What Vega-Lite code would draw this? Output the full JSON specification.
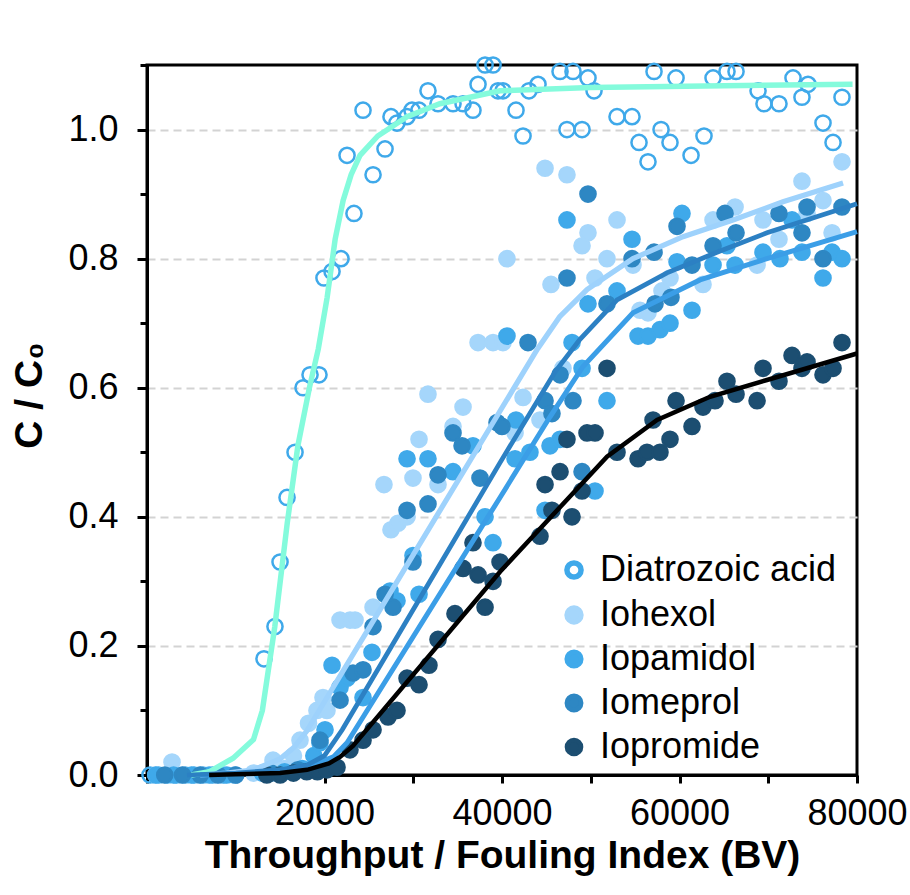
{
  "$schema": "https://vega.github.io/schema/vega-lite/v6.json",
  "width": 710,
  "height": 710,
  "autosize": {"type": "none"},
  "padding": {"left": 147, "top": 65, "right": 53, "bottom": 120},
  "background": "white",
  "config": {
    "font": "Liberation Sans",
    "view": {"stroke": "black", "strokeWidth": 3},
    "axis": {
      "domainColor": "black", "domainWidth": 3,
      "tickColor": "black", "tickWidth": 3,
      "labelColor": "black", "labelFontSize": 36, "labelFont": "Liberation Sans",
      "titleColor": "black", "titleFontSize": 39, "titleFontWeight": "bold", "titleFont": "Liberation Sans",
      "labelOverlap": false, "labelFlush": false, "labelBound": false
    }
  },
  "datasets": {
    "pts": [
      {"s":"Diatrozoic acid","x":340,"y":0},{"s":"Diatrozoic acid","x":1300,"y":0},{"s":"Diatrozoic acid","x":2300,"y":0},{"s":"Diatrozoic acid","x":3300,"y":0},{"s":"Diatrozoic acid","x":4300,"y":0},{"s":"Diatrozoic acid","x":5300,"y":0},{"s":"Diatrozoic acid","x":6300,"y":0},{"s":"Diatrozoic acid","x":7400,"y":0},{"s":"Diatrozoic acid","x":8600,"y":0},{"s":"Diatrozoic acid","x":9900,"y":0},
      {"s":"Diatrozoic acid","x":13180,"y":0.18},{"s":"Diatrozoic acid","x":14420,"y":0.23},{"s":"Diatrozoic acid","x":14990,"y":0.33},{"s":"Diatrozoic acid","x":15780,"y":0.43},{"s":"Diatrozoic acid","x":16680,"y":0.5},{"s":"Diatrozoic acid","x":17580,"y":0.6},{"s":"Diatrozoic acid","x":18370,"y":0.62},{"s":"Diatrozoic acid","x":19380,"y":0.62},{"s":"Diatrozoic acid","x":19940,"y":0.77},{"s":"Diatrozoic acid","x":20850,"y":0.78},{"s":"Diatrozoic acid","x":21860,"y":0.8},{"s":"Diatrozoic acid","x":22540,"y":0.96},{"s":"Diatrozoic acid","x":23320,"y":0.87},{"s":"Diatrozoic acid","x":24340,"y":1.03},{"s":"Diatrozoic acid","x":25470,"y":0.93},{"s":"Diatrozoic acid","x":26820,"y":0.97},{"s":"Diatrozoic acid","x":27490,"y":1.02},{"s":"Diatrozoic acid","x":28170,"y":1.01},{"s":"Diatrozoic acid","x":29300,"y":1.02},{"s":"Diatrozoic acid","x":29860,"y":1.03},{"s":"Diatrozoic acid","x":30650,"y":1.03},{"s":"Diatrozoic acid","x":31660,"y":1.06},{"s":"Diatrozoic acid","x":32790,"y":1.04},{"s":"Diatrozoic acid","x":34480,"y":1.04},{"s":"Diatrozoic acid","x":35610,"y":1.04},{"s":"Diatrozoic acid","x":36730,"y":1.03},{"s":"Diatrozoic acid","x":37300,"y":1.07},{"s":"Diatrozoic acid","x":38090,"y":1.1},{"s":"Diatrozoic acid","x":38990,"y":1.1},{"s":"Diatrozoic acid","x":39550,"y":1.06},{"s":"Diatrozoic acid","x":40110,"y":1.06},{"s":"Diatrozoic acid","x":41580,"y":1.03},{"s":"Diatrozoic acid","x":42370,"y":0.99},{"s":"Diatrozoic acid","x":43040,"y":1.06},{"s":"Diatrozoic acid","x":44060,"y":1.07},{"s":"Diatrozoic acid","x":46540,"y":1.09},{"s":"Diatrozoic acid","x":47320,"y":1.0},{"s":"Diatrozoic acid","x":48000,"y":1.09},{"s":"Diatrozoic acid","x":49020,"y":1.0},{"s":"Diatrozoic acid","x":49690,"y":1.08},{"s":"Diatrozoic acid","x":50370,"y":1.06},{"s":"Diatrozoic acid","x":52960,"y":1.02},{"s":"Diatrozoic acid","x":54650,"y":1.02},{"s":"Diatrozoic acid","x":55440,"y":0.98},{"s":"Diatrozoic acid","x":56450,"y":0.95},{"s":"Diatrozoic acid","x":57130,"y":1.09},{"s":"Diatrozoic acid","x":57920,"y":1.0},{"s":"Diatrozoic acid","x":58930,"y":0.98},{"s":"Diatrozoic acid","x":59610,"y":1.08},{"s":"Diatrozoic acid","x":61300,"y":0.96},{"s":"Diatrozoic acid","x":62760,"y":0.99},{"s":"Diatrozoic acid","x":63780,"y":1.08},{"s":"Diatrozoic acid","x":65350,"y":1.09},{"s":"Diatrozoic acid","x":66370,"y":1.09},{"s":"Diatrozoic acid","x":68850,"y":1.06},{"s":"Diatrozoic acid","x":69520,"y":1.04},{"s":"Diatrozoic acid","x":71210,"y":1.04},{"s":"Diatrozoic acid","x":72790,"y":1.08},{"s":"Diatrozoic acid","x":73800,"y":1.05},{"s":"Diatrozoic acid","x":74480,"y":1.07},{"s":"Diatrozoic acid","x":76170,"y":1.01},{"s":"Diatrozoic acid","x":77300,"y":0.98},{"s":"Diatrozoic acid","x":78310,"y":1.05},

      {"s":"Iohexol","x":1000,"y":0},{"s":"Iohexol","x":2820,"y":0.02},{"s":"Iohexol","x":4000,"y":0},{"s":"Iohexol","x":6000,"y":0},{"s":"Iohexol","x":8000,"y":0},{"s":"Iohexol","x":10000,"y":0},{"s":"Iohexol","x":12000,"y":0.003},{"s":"Iohexol","x":14200,"y":0.023},{"s":"Iohexol","x":15500,"y":0.01},{"s":"Iohexol","x":16500,"y":0.03},{"s":"Iohexol","x":17240,"y":0.054},{"s":"Iohexol","x":18200,"y":0.08},{"s":"Iohexol","x":19150,"y":0.1},{"s":"Iohexol","x":19830,"y":0.12},{"s":"Iohexol","x":20280,"y":0.1},{"s":"Iohexol","x":21750,"y":0.24},{"s":"Iohexol","x":22880,"y":0.24},{"s":"Iohexol","x":23440,"y":0.24},{"s":"Iohexol","x":25470,"y":0.26},{"s":"Iohexol","x":26700,"y":0.45},{"s":"Iohexol","x":27490,"y":0.38},{"s":"Iohexol","x":28280,"y":0.39},{"s":"Iohexol","x":29300,"y":0.4},{"s":"Iohexol","x":29970,"y":0.46},{"s":"Iohexol","x":30650,"y":0.52},{"s":"Iohexol","x":31660,"y":0.59},{"s":"Iohexol","x":32790,"y":0.45},{"s":"Iohexol","x":34480,"y":0.54},{"s":"Iohexol","x":35610,"y":0.57},{"s":"Iohexol","x":37300,"y":0.67},{"s":"Iohexol","x":38990,"y":0.67},{"s":"Iohexol","x":40110,"y":0.67},{"s":"Iohexol","x":40560,"y":0.8},{"s":"Iohexol","x":41470,"y":0.53},{"s":"Iohexol","x":42370,"y":0.585},{"s":"Iohexol","x":44280,"y":0.55},{"s":"Iohexol","x":44850,"y":0.94},{"s":"Iohexol","x":45520,"y":0.76},{"s":"Iohexol","x":46870,"y":0.63},{"s":"Iohexol","x":47320,"y":0.93},{"s":"Iohexol","x":49020,"y":0.82},{"s":"Iohexol","x":49690,"y":0.84},{"s":"Iohexol","x":50480,"y":0.77},{"s":"Iohexol","x":51830,"y":0.8},{"s":"Iohexol","x":52960,"y":0.86},{"s":"Iohexol","x":54760,"y":0.79},{"s":"Iohexol","x":55550,"y":0.72},{"s":"Iohexol","x":56450,"y":0.716},{"s":"Iohexol","x":58030,"y":0.75},{"s":"Iohexol","x":58930,"y":0.77},{"s":"Iohexol","x":62650,"y":0.76},{"s":"Iohexol","x":63780,"y":0.86},{"s":"Iohexol","x":66260,"y":0.88},{"s":"Iohexol","x":68740,"y":0.79},{"s":"Iohexol","x":69410,"y":0.86},{"s":"Iohexol","x":71210,"y":0.83},{"s":"Iohexol","x":73800,"y":0.92},{"s":"Iohexol","x":74370,"y":0.87},{"s":"Iohexol","x":76170,"y":0.89},{"s":"Iohexol","x":77190,"y":0.84},{"s":"Iohexol","x":78310,"y":0.95},

      {"s":"Iopamidol","x":1000,"y":0},{"s":"Iopamidol","x":3000,"y":0},{"s":"Iopamidol","x":5000,"y":0},{"s":"Iopamidol","x":7000,"y":0},{"s":"Iopamidol","x":9000,"y":0},{"s":"Iopamidol","x":13000,"y":0.003},{"s":"Iopamidol","x":15500,"y":0.005},{"s":"Iopamidol","x":17500,"y":0.01},{"s":"Iopamidol","x":18800,"y":0.03},{"s":"Iopamidol","x":19490,"y":0.05},{"s":"Iopamidol","x":20060,"y":0.07},{"s":"Iopamidol","x":20850,"y":0.17},{"s":"Iopamidol","x":21750,"y":0.136},{"s":"Iopamidol","x":22540,"y":0.15},{"s":"Iopamidol","x":24340,"y":0.12},{"s":"Iopamidol","x":25350,"y":0.19},{"s":"Iopamidol","x":27380,"y":0.285},{"s":"Iopamidol","x":28170,"y":0.27},{"s":"Iopamidol","x":29300,"y":0.49},{"s":"Iopamidol","x":29970,"y":0.34},{"s":"Iopamidol","x":30650,"y":0.28},{"s":"Iopamidol","x":31660,"y":0.49},{"s":"Iopamidol","x":34480,"y":0.47},{"s":"Iopamidol","x":36730,"y":0.51},{"s":"Iopamidol","x":38090,"y":0.4},{"s":"Iopamidol","x":38990,"y":0.36},{"s":"Iopamidol","x":40560,"y":0.68},{"s":"Iopamidol","x":41470,"y":0.49},{"s":"Iopamidol","x":41580,"y":0.55},{"s":"Iopamidol","x":43150,"y":0.5},{"s":"Iopamidol","x":44850,"y":0.41},{"s":"Iopamidol","x":45410,"y":0.51},{"s":"Iopamidol","x":46540,"y":0.52},{"s":"Iopamidol","x":47320,"y":0.86},{"s":"Iopamidol","x":47890,"y":0.67},{"s":"Iopamidol","x":49020,"y":0.63},{"s":"Iopamidol","x":49690,"y":0.73},{"s":"Iopamidol","x":50480,"y":0.44},{"s":"Iopamidol","x":51830,"y":0.58},{"s":"Iopamidol","x":52960,"y":0.75},{"s":"Iopamidol","x":54650,"y":0.83},{"s":"Iopamidol","x":55330,"y":0.68},{"s":"Iopamidol","x":56450,"y":0.68},{"s":"Iopamidol","x":57800,"y":0.69},{"s":"Iopamidol","x":58930,"y":0.7},{"s":"Iopamidol","x":59720,"y":0.795},{"s":"Iopamidol","x":60280,"y":0.87},{"s":"Iopamidol","x":61410,"y":0.72},{"s":"Iopamidol","x":63780,"y":0.79},{"s":"Iopamidol","x":65350,"y":0.82},{"s":"Iopamidol","x":66260,"y":0.79},{"s":"Iopamidol","x":69410,"y":0.81},{"s":"Iopamidol","x":71320,"y":0.8},{"s":"Iopamidol","x":72680,"y":0.86},{"s":"Iopamidol","x":73800,"y":0.81},{"s":"Iopamidol","x":76170,"y":0.77},{"s":"Iopamidol","x":77190,"y":0.81},{"s":"Iopamidol","x":78310,"y":0.8},

      {"s":"Iomeprol","x":2000,"y":0},{"s":"Iomeprol","x":4000,"y":0},{"s":"Iomeprol","x":6000,"y":0},{"s":"Iomeprol","x":8000,"y":0},{"s":"Iomeprol","x":10000,"y":0},{"s":"Iomeprol","x":14000,"y":0.003},{"s":"Iomeprol","x":17000,"y":0.008},{"s":"Iomeprol","x":19490,"y":0.054},{"s":"Iomeprol","x":21750,"y":0.116},{"s":"Iomeprol","x":23210,"y":0.158},{"s":"Iomeprol","x":24340,"y":0.163},{"s":"Iomeprol","x":25470,"y":0.23},{"s":"Iomeprol","x":26820,"y":0.28},{"s":"Iomeprol","x":27720,"y":0.26},{"s":"Iomeprol","x":29300,"y":0.41},{"s":"Iomeprol","x":29970,"y":0.33},{"s":"Iomeprol","x":31660,"y":0.42},{"s":"Iomeprol","x":32790,"y":0.465},{"s":"Iomeprol","x":34480,"y":0.53},{"s":"Iomeprol","x":35500,"y":0.51},{"s":"Iomeprol","x":37520,"y":0.46},{"s":"Iomeprol","x":39440,"y":0.546},{"s":"Iomeprol","x":40000,"y":0.54},{"s":"Iomeprol","x":42930,"y":0.67},{"s":"Iomeprol","x":44850,"y":0.58},{"s":"Iomeprol","x":45630,"y":0.56},{"s":"Iomeprol","x":46540,"y":0.62},{"s":"Iomeprol","x":47320,"y":0.77},{"s":"Iomeprol","x":48000,"y":0.58},{"s":"Iomeprol","x":49020,"y":0.47},{"s":"Iomeprol","x":49690,"y":0.9},{"s":"Iomeprol","x":51830,"y":0.73},{"s":"Iomeprol","x":54650,"y":0.8},{"s":"Iomeprol","x":57130,"y":0.81},{"s":"Iomeprol","x":57240,"y":0.73},{"s":"Iomeprol","x":59040,"y":0.74},{"s":"Iomeprol","x":59720,"y":0.85},{"s":"Iomeprol","x":61410,"y":0.79},{"s":"Iomeprol","x":63780,"y":0.82},{"s":"Iomeprol","x":65130,"y":0.87},{"s":"Iomeprol","x":66370,"y":0.84},{"s":"Iomeprol","x":71210,"y":0.87},{"s":"Iomeprol","x":73800,"y":0.84},{"s":"Iomeprol","x":74370,"y":0.88},{"s":"Iomeprol","x":76170,"y":0.8},{"s":"Iomeprol","x":78310,"y":0.88},

      {"s":"Iopromide","x":13500,"y":0},{"s":"Iopromide","x":15000,"y":0},{"s":"Iopromide","x":16500,"y":0.003},{"s":"Iopromide","x":18000,"y":0.005},{"s":"Iopromide","x":19200,"y":0.005},{"s":"Iopromide","x":20280,"y":0.008},{"s":"Iopromide","x":21410,"y":0.012},{"s":"Iopromide","x":22870,"y":0.039},{"s":"Iopromide","x":24340,"y":0.054},{"s":"Iopromide","x":25470,"y":0.07},{"s":"Iopromide","x":27160,"y":0.09},{"s":"Iopromide","x":28170,"y":0.1},{"s":"Iopromide","x":29300,"y":0.15},{"s":"Iopromide","x":30650,"y":0.14},{"s":"Iopromide","x":31770,"y":0.17},{"s":"Iopromide","x":32790,"y":0.21},{"s":"Iopromide","x":34700,"y":0.25},{"s":"Iopromide","x":35610,"y":0.32},{"s":"Iopromide","x":36730,"y":0.36},{"s":"Iopromide","x":37300,"y":0.31},{"s":"Iopromide","x":38090,"y":0.26},{"s":"Iopromide","x":38990,"y":0.3},{"s":"Iopromide","x":39780,"y":0.33},{"s":"Iopromide","x":44280,"y":0.37},{"s":"Iopromide","x":44850,"y":0.45},{"s":"Iopromide","x":45630,"y":0.41},{"s":"Iopromide","x":46540,"y":0.47},{"s":"Iopromide","x":47320,"y":0.52},{"s":"Iopromide","x":47890,"y":0.4},{"s":"Iopromide","x":49020,"y":0.44},{"s":"Iopromide","x":49580,"y":0.53},{"s":"Iopromide","x":50480,"y":0.53},{"s":"Iopromide","x":51830,"y":0.63},{"s":"Iopromide","x":52960,"y":0.5},{"s":"Iopromide","x":55330,"y":0.49},{"s":"Iopromide","x":56340,"y":0.5},{"s":"Iopromide","x":57020,"y":0.55},{"s":"Iopromide","x":57800,"y":0.5},{"s":"Iopromide","x":58930,"y":0.52},{"s":"Iopromide","x":59610,"y":0.58},{"s":"Iopromide","x":61410,"y":0.54},{"s":"Iopromide","x":62650,"y":0.57},{"s":"Iopromide","x":64000,"y":0.58},{"s":"Iopromide","x":65350,"y":0.61},{"s":"Iopromide","x":66370,"y":0.59},{"s":"Iopromide","x":68740,"y":0.58},{"s":"Iopromide","x":69410,"y":0.63},{"s":"Iopromide","x":71210,"y":0.61},{"s":"Iopromide","x":72680,"y":0.65},{"s":"Iopromide","x":73800,"y":0.63},{"s":"Iopromide","x":74370,"y":0.64},{"s":"Iopromide","x":76170,"y":0.62},{"s":"Iopromide","x":77300,"y":0.63},{"s":"Iopromide","x":78310,"y":0.67}
    ],
    "lines": [
      {"s":"Diatrozoic acid","x":5000,"y":0},{"s":"Diatrozoic acid","x":7000,"y":0.005},{"s":"Diatrozoic acid","x":9700,"y":0.026},{"s":"Diatrozoic acid","x":12000,"y":0.055},{"s":"Diatrozoic acid","x":13000,"y":0.1},{"s":"Diatrozoic acid","x":14400,"y":0.23},{"s":"Diatrozoic acid","x":15800,"y":0.39},{"s":"Diatrozoic acid","x":17000,"y":0.51},{"s":"Diatrozoic acid","x":18300,"y":0.6},{"s":"Diatrozoic acid","x":19300,"y":0.66},{"s":"Diatrozoic acid","x":20300,"y":0.74},{"s":"Diatrozoic acid","x":21200,"y":0.83},{"s":"Diatrozoic acid","x":22100,"y":0.89},{"s":"Diatrozoic acid","x":23000,"y":0.93},{"s":"Diatrozoic acid","x":24000,"y":0.96},{"s":"Diatrozoic acid","x":26000,"y":0.99},{"s":"Diatrozoic acid","x":29300,"y":1.02},{"s":"Diatrozoic acid","x":33000,"y":1.04},{"s":"Diatrozoic acid","x":39780,"y":1.06},{"s":"Diatrozoic acid","x":50000,"y":1.065},{"s":"Diatrozoic acid","x":65000,"y":1.068},{"s":"Diatrozoic acid","x":79500,"y":1.07},
      {"s":"Iohexol","x":6000,"y":0},{"s":"Iohexol","x":9000,"y":0.003},{"s":"Iohexol","x":12000,"y":0.008},{"s":"Iohexol","x":15000,"y":0.025},{"s":"Iohexol","x":16500,"y":0.042},{"s":"Iohexol","x":18000,"y":0.068},{"s":"Iohexol","x":44000,"y":0.66},{"s":"Iohexol","x":46500,"y":0.71},{"s":"Iohexol","x":49580,"y":0.752},{"s":"Iohexol","x":54760,"y":0.8},{"s":"Iohexol","x":60400,"y":0.834},{"s":"Iohexol","x":66030,"y":0.86},{"s":"Iohexol","x":71660,"y":0.888},{"s":"Iohexol","x":78430,"y":0.917},
      {"s":"Iopamidol","x":6000,"y":0},{"s":"Iopamidol","x":12000,"y":0.003},{"s":"Iopamidol","x":18000,"y":0.012},{"s":"Iopamidol","x":21000,"y":0.028},{"s":"Iopamidol","x":22540,"y":0.05},{"s":"Iopamidol","x":39780,"y":0.43},{"s":"Iopamidol","x":45410,"y":0.555},{"s":"Iopamidol","x":49130,"y":0.633},{"s":"Iopamidol","x":54760,"y":0.716},{"s":"Iopamidol","x":62310,"y":0.767},{"s":"Iopamidol","x":69860,"y":0.8},{"s":"Iopamidol","x":80000,"y":0.842},
      {"s":"Iomeprol","x":4500,"y":0},{"s":"Iomeprol","x":10000,"y":0.003},{"s":"Iomeprol","x":15000,"y":0.008},{"s":"Iomeprol","x":18000,"y":0.015},{"s":"Iomeprol","x":20000,"y":0.03},{"s":"Iomeprol","x":22000,"y":0.07},{"s":"Iomeprol","x":39780,"y":0.484},{"s":"Iomeprol","x":46000,"y":0.625},{"s":"Iomeprol","x":48790,"y":0.675},{"s":"Iomeprol","x":52960,"y":0.736},{"s":"Iomeprol","x":58590,"y":0.778},{"s":"Iomeprol","x":64230,"y":0.81},{"s":"Iomeprol","x":69860,"y":0.84},{"s":"Iomeprol","x":80000,"y":0.885},
      {"s":"Iopromide","x":7000,"y":0},{"s":"Iopromide","x":10000,"y":0.001},{"s":"Iopromide","x":15000,"y":0.003},{"s":"Iopromide","x":18030,"y":0.008},{"s":"Iopromide","x":20500,"y":0.018},{"s":"Iopromide","x":21750,"y":0.028},{"s":"Iopromide","x":23210,"y":0.045},{"s":"Iopromide","x":39780,"y":0.315},{"s":"Iopromide","x":43490,"y":0.37},{"s":"Iopromide","x":51830,"y":0.493},{"s":"Iopromide","x":57470,"y":0.55},{"s":"Iopromide","x":63440,"y":0.586},{"s":"Iopromide","x":69860,"y":0.612},{"s":"Iopromide","x":80000,"y":0.653}
    ]
  },
  "encoding": {
    "x": {
      "field": "x", "type": "quantitative",
      "scale": {"domain": [0, 80000], "nice": false, "zero": false},
      "title": "Throughput / Fouling Index (BV)",
      "axis": {
        "values": [0, 10000, 20000, 30000, 40000, 50000, 60000, 70000, 80000],
        "labelExpr": "datum.value > 0 && datum.value % 20000 === 0 ? '' + datum.value : ''",
        "grid": false, "tickSize": 8, "labelPadding": 13,
        "titleY": 80, "titleBaseline": "middle"
      }
    },
    "y": {
      "field": "y", "type": "quantitative",
      "scale": {"domain": [0, 1.1], "nice": false},
      "title": "C / C₀",
      "axis": {
        "values": [0, 0.1, 0.2, 0.3, 0.4, 0.5, 0.6, 0.7, 0.8, 0.9, 1.0, 1.1],
        "labelExpr": "(round(datum.value * 10) % 2 === 0 && datum.value < 1.05) ? format(datum.value, '.1f') : ''",
        "grid": true, "gridDash": [8, 5], "gridColor": "#d3d3d3", "gridWidth": 2,
        "gridOpacity": {"condition": {"test": "round(datum.value * 10) % 2 === 0 && datum.value > 0.05 && datum.value < 1.05", "value": 1}, "value": 0},
        "tickSize": {"condition": {"test": "round(datum.value * 10) % 2 === 0", "value": 10}, "value": 7},
        "labelPadding": 19,
        "titleX": -118, "titleY": 330, "titleBaseline": "middle", "titleAngle": 270
      }
    }
  },
  "layer": [
    {
      "data": {"name": "pts"},
      "mark": {"type": "circle", "strokeWidth": 2.5, "opacity": 1, "size": 230},
      "encoding": {
        "fill": {
          "field": "s", "type": "nominal",
          "scale": {"domain": ["Diatrozoic acid", "Iohexol", "Iopamidol", "Iomeprol", "Iopromide"], "range": ["transparent", "#a5d6fb", "#3fa9ea", "#2e87c3", "#1c4e71"]},
          "legend": {"orient": "none", "legendX": 409, "legendY": 487, "title": null, "labelFontSize": 36, "labelColor": "black", "labelFont": "Liberation Sans", "symbolSize": 200, "symbolStrokeWidth": 2.5, "rowPadding": 8, "labelOffset": 8, "padding": 0, "symbolType": "circle", "labelLimit": 400}
        },
        "stroke": {
          "field": "s", "type": "nominal",
          "scale": {"domain": ["Diatrozoic acid", "Iohexol", "Iopamidol", "Iomeprol", "Iopromide"], "range": ["#3fa9ea", "#a5d6fb", "#3fa9ea", "#2e87c3", "#1c4e71"]},
          "legend": {"orient": "none", "legendX": 409, "legendY": 487, "title": null, "labelFontSize": 36, "labelColor": "black", "labelFont": "Liberation Sans", "symbolSize": 200, "symbolStrokeWidth": 2.5, "rowPadding": 8, "labelOffset": 8, "padding": 0, "symbolType": "circle", "labelLimit": 400}
        }
      }
    },
    {
      "data": {"name": "lines"},
      "mark": {"type": "line", "strokeCap": "butt"},
      "encoding": {
        "color": {
          "field": "s", "type": "nominal",
          "scale": {"domain": ["Diatrozoic acid", "Iohexol", "Iopamidol", "Iomeprol", "Iopromide"], "range": ["#84fbdc", "#9ed2fc", "#3b9ee7", "#2c80c3", "#000000"]},
          "legend": null
        },
        "strokeWidth": {
          "field": "s", "type": "nominal",
          "scale": {"domain": ["Diatrozoic acid", "Iohexol", "Iopamidol", "Iomeprol", "Iopromide"], "range": [5.5, 4.5, 4.5, 4.5, 5]},
          "legend": null
        }
      }
    }
  ]
}
